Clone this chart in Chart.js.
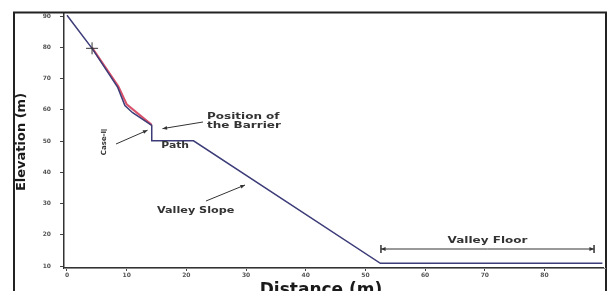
<!DOCTYPE html>
<html><head><meta charset="utf-8">
<script src="https://cdn.jsdelivr.net/npm/chart.js@4"></script>
<style>html,body{margin:0;padding:0;background:#fff}#wrap{width:610px;height:291px;position:relative}</style>
</head><body><div id="wrap"><canvas id="c" width="610" height="291"></canvas></div>
<script>
// Ground profile (m)
const profileDistance = [0, 4.2, 8.5, 9.7, 11, 14.2, 14.2, 21.2, 52.5, 89.7];
const profileElevation = [90.3, 79.7, 67.2, 61.4, 59.1, 55, 50.1, 50.1, 10.9, 10.9];
// Trajectory overlay on upper slope
const trajDistance = [4.2, 8.6, 10.0, 14.2];
const trajElevation = [79.9, 67.6, 61.8, 55.2];
// Marker
const markerDistance = [4.2];
const markerElevation = [79.7];
const xTicks = [0, 10, 20, 30, 40, 50, 60, 70, 80];
const yTicks = [10, 20, 30, 40, 50, 60, 70, 80, 90];

const toPts = (xs, ys) => xs.map((x, i) => ({x, y: ys[i]}));

function arrow(ctx, x1, y1, x2, y2, size) {
  ctx.beginPath(); ctx.moveTo(x1, y1); ctx.lineTo(x2, y2); ctx.stroke();
  const a = Math.atan2(y2 - y1, x2 - x1);
  ctx.beginPath();
  ctx.moveTo(x2, y2);
  ctx.lineTo(x2 - size * Math.cos(a - 0.4), y2 - size * Math.sin(a - 0.4));
  ctx.lineTo(x2 - size * Math.cos(a + 0.4), y2 - size * Math.sin(a + 0.4));
  ctx.closePath(); ctx.fill();
}
function wideText(ctx, str, x, y, sx, align) {
  ctx.save(); ctx.translate(x, y); ctx.scale(sx, 1);
  ctx.textAlign = align || 'left'; ctx.fillText(str, 0, 0); ctx.restore();
}

const deco = {
  id: 'deco',
  afterDraw(chart) {
    const ctx = chart.ctx, xs = chart.scales.x, ys = chart.scales.y;
    const X = v => xs.getPixelForValue(v), Y = v => ys.getPixelForValue(v);
    ctx.save();
    // frame
    ctx.strokeStyle = '#222'; ctx.lineWidth = 2;
    ctx.beginPath(); ctx.moveTo(14, 291); ctx.lineTo(14, 12.5); ctx.lineTo(606, 12.5); ctx.lineTo(606, 291); ctx.stroke();
    ctx.lineWidth = 1; ctx.strokeStyle = '#888';
    ctx.beginPath(); ctx.moveTo(64, 268.5); ctx.lineTo(606, 268.5); ctx.stroke();

    ctx.fillStyle = '#1a1a1a'; ctx.strokeStyle = '#222';
    // axis titles
    ctx.font = 'bold 13px "DejaVu Sans", sans-serif';
    ctx.save(); ctx.translate(22, 142); ctx.rotate(-Math.PI / 2);
    ctx.textAlign = 'center'; ctx.textBaseline = 'middle';
    ctx.fillText('Elevation (m)', 0, 0); ctx.restore();
    ctx.font = 'bold 17px "DejaVu Sans", sans-serif';
    ctx.textAlign = 'center'; ctx.textBaseline = 'alphabetic';
    ctx.fillText('Distance (m)', 321, 295);

    // annotations
    ctx.font = 'bold 8px "DejaVu Sans", sans-serif';
    ctx.textBaseline = 'middle';
    ctx.fillStyle = '#333'; ctx.strokeStyle = '#333'; ctx.lineWidth = 1;
    wideText(ctx, 'Position of', 207, 117, 1.5);
    wideText(ctx, 'the Barrier', 207, 126, 1.5);
    arrow(ctx, 203, 122, X(16.0), Y(54.0), 5);
    wideText(ctx, 'Path', X(15.8), 146, 1.35);
    wideText(ctx, 'Valley Slope', 157, 211, 1.4);
    arrow(ctx, 206, 201, 245, 185, 5);
    // Case-I
    ctx.save(); ctx.translate(104, 143); ctx.rotate(-Math.PI / 2);
    ctx.textAlign = 'center'; ctx.font = 'bold 7px "DejaVu Sans", sans-serif';
    ctx.fillText('Case-I', 0, 0); ctx.restore();
    ctx.beginPath(); ctx.moveTo(101, 130); ctx.lineTo(107, 130); ctx.stroke();
    arrow(ctx, 116, 144, X(13.5), Y(53.5), 5);
    // Valley floor
    const fy = 249, fx1 = X(52.6), fx2 = X(88.3);
    wideText(ctx, 'Valley Floor', (fx1 + fx2) / 2, 241, 1.5, 'center');
    arrow(ctx, (fx1 + fx2) / 2, fy, fx1, fy, 5);
    arrow(ctx, (fx1 + fx2) / 2, fy, fx2, fy, 5);
    ctx.lineWidth = 1.5;
    ctx.beginPath(); ctx.moveTo(fx1, fy - 4); ctx.lineTo(fx1, fy + 4); ctx.moveTo(fx2, fy - 4); ctx.lineTo(fx2, fy + 4); ctx.stroke();
    ctx.restore();
  }
};

new Chart(document.getElementById('c'), {
  type: 'scatter',
  data: {
    datasets: [
      { data: toPts(trajDistance, trajElevation), showLine: true, borderColor: '#d8506a', borderWidth: 2, pointRadius: 0, order: 2 },
      { data: toPts(profileDistance, profileElevation), showLine: true, borderColor: '#3c3c78', borderWidth: 1.5, pointRadius: 0, order: 1 },
      { data: toPts(markerDistance, markerElevation), pointStyle: 'cross', pointRadius: 6, borderColor: '#333', borderWidth: 1, order: 0 }
    ]
  },
  options: {
    responsive: false, animation: false, devicePixelRatio: 1,
    layout: { padding: { left: 0, right: 4, top: 13, bottom: 0 } },
    plugins: { legend: { display: false }, tooltip: { enabled: false } },
    scales: {
      x: {
        type: 'linear', min: -0.5, max: 89.8,
        afterFit(s) { s.height = 23; },
        afterBuildTicks(s) { s.ticks = xTicks.map(v => ({value: v})); },
        grid: { drawOnChartArea: false, drawTicks: true, tickLength: 3, color: '#444' },
        border: { display: true, color: '#333', width: 1.5 },
        ticks: { color: '#555', font: { size: 6, weight: 'bold', family: '"DejaVu Sans"' }, padding: 1, maxRotation: 0 }
      },
      y: {
        type: 'linear', min: 9.4, max: 91,
        afterFit(s) { s.width = 64; },
        afterBuildTicks(s) { s.ticks = yTicks.map(v => ({value: v})); },
        grid: { drawOnChartArea: false, drawTicks: true, tickLength: 4, color: '#444' },
        border: { display: true, color: '#333', width: 1.5 },
        ticks: { color: '#555', font: { size: 6, weight: 'bold', family: '"DejaVu Sans"' }, padding: 9 }
      }
    }
  },
  plugins: [deco]
});
</script></body></html>
